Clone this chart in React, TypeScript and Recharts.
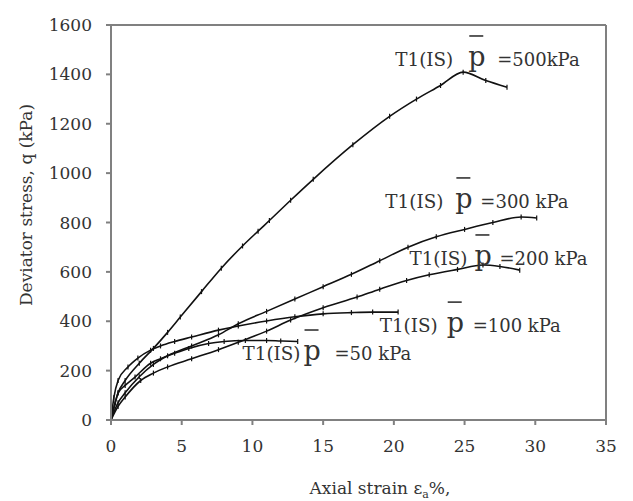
import React from 'react';
import { LineChart, Line, XAxis, YAxis, ReferenceLine, ReferenceDot, Label } from 'recharts';

// axial strain (%) and deviator stress q (kPa) for each confining pressure
const strain50 = [0, 0.3, 0.5, 1, 1.7, 2.8, 3.5, 4.5, 5.5, 6.9, 8, 9.5, 11, 12, 13.2];
const q50 = [0, 70, 109, 140, 174, 230, 248, 270, 290, 310, 318, 322, 322, 320, 318];

const strain100 = [0, 0.2, 0.5, 1.2, 1.9, 2.8, 3.5, 4.5, 5.7, 7.6, 9, 11, 13, 15, 17, 18.5, 20.3];
const q100 = [0, 90, 160, 215, 251, 283, 300, 318, 336, 364, 381, 401, 418, 430, 435, 437, 437];

const strain200 = [0, 0.5, 1, 2.1, 3, 4, 5.7, 7.6, 9, 11, 12.7, 15, 17.4, 19, 20.9, 22.5, 24.5, 26.3, 27.5, 28.9];
const q200 = [0, 55, 93, 160, 190, 215, 248, 285, 315, 360, 405, 455, 498, 530, 565, 588, 610, 628, 622, 607];

const strain300 = [0, 0.5, 1, 2, 3, 4, 5.7, 7.6, 9, 11, 13, 15, 17, 19, 21, 23, 25, 27, 29, 30.1];
const q300 = [0, 70, 110, 175, 225, 260, 300, 345, 390, 440, 490, 540, 590, 645, 700, 742, 772, 800, 822, 818];

const strain500 = [0, 0.5, 1, 2, 3, 4, 4.9, 6.4, 7.8, 9.3, 10.4, 11.2, 12.7, 14.3, 17.1, 19.7, 21.6, 23.3, 24.9, 26.5, 28.0];
const q500 = [0, 110, 160, 230, 290, 355, 417, 520, 615, 705, 765, 808, 890, 975, 1115, 1230, 1300, 1355, 1409, 1375, 1348];

const xTicks = [0, 5, 10, 15, 20, 25, 30, 35];
const yTicks = [0, 200, 400, 600, 800, 1000, 1200, 1400, 1600];

const zip = (xs: number[], ys: number[]) => xs.map((x, i) => ({ x, q: ys[i] }));

const series = [
  { name: 'p50', data: zip(strain50, q50) },
  { name: 'p100', data: zip(strain100, q100) },
  { name: 'p200', data: zip(strain200, q200) },
  { name: 'p300', data: zip(strain300, q300) },
  { name: 'p500', data: zip(strain500, q500) },
];

// curve labels: anchor (strain, q) at the start of "T1(IS)", plus spacing of the p-bar and the value
const curveLabels = [
  { x: 20.1, y: 1434, pDx: 73, eqDx: 102, text: '=500kPa' },
  { x: 19.4, y: 859, pDx: 70, eqDx: 95, text: '=300 kPa' },
  { x: 21.1, y: 628, pDx: 65, eqDx: 90, text: '=200 kPa' },
  { x: 19.0, y: 356, pDx: 67, eqDx: 93, text: '=100 kPa' },
  { x: 9.3, y: 243, pDx: 61, eqDx: 92, text: '=50 kPa' },
];

const FONT = '"DejaVu Serif", "Liberation Serif", serif';
const INK = '#333';
const AXIS = '#808080';

const TickDot = (props: any) => {
  const { cx, cy, index } = props;
  if (index === 0 || cx == null) return <g key={index} />;
  return <line key={index} x1={cx} y1={cy - 2.5} x2={cx} y2={cy + 2.5} stroke="#111" strokeWidth={1.2} />;
};

const CurveLabel = ({ cx, cy, pDx, eqDx, text }: any) => (
  <g fontFamily={FONT} fill={INK}>
    <text x={cx} y={cy} fontSize={19} textLength={58} lengthAdjust="spacingAndGlyphs">T1(IS)</text>
    <text x={cx + pDx} y={cy} fontSize={27}>p</text>
    <line x1={cx + pDx + 1} x2={cx + pDx + 15} y1={cy - 30} y2={cy - 30} stroke={INK} strokeWidth={1.6} />
    <text x={cx + eqDx} y={cy} fontSize={18}>{text}</text>
  </g>
);

export default function App() {
  return (
    <LineChart width={625} height={493} margin={{ top: 17, right: 27, bottom: 51, left: 0 }}>
      <XAxis
        type="number"
        dataKey="x"
        domain={[0, 35]}
        ticks={xTicks}
        allowDataOverflow
        axisLine={{ stroke: AXIS, strokeWidth: 2 }}
        tickLine={{ stroke: AXIS, strokeWidth: 2 }}
        tickSize={5}
        tickMargin={15}
        height={30}
        tick={{ fontFamily: FONT, fontSize: 17, fill: INK }}
      >
        <Label
          content={() => (
            <text x={372} y={486} textAnchor="middle" fontFamily={FONT} fontSize={17} fill={INK}>
              Axial strain ε<tspan fontSize={11} dy={4}>a</tspan><tspan dy={-4}>%,</tspan>
            </text>
          )}
        />
      </XAxis>
      <YAxis
        type="number"
        domain={[0, 1600]}
        ticks={yTicks}
        allowDataOverflow
        width={103}
        axisLine={{ stroke: AXIS, strokeWidth: 2 }}
        tickLine={{ stroke: AXIS, strokeWidth: 2 }}
        tickSize={5}
        tickMargin={14}
        tick={{ fontFamily: FONT, fontSize: 17, fill: INK }}
      >
        <Label
          content={() => (
            <text
              x={19}
              y={197}
              transform="rotate(-90 19 197)"
              textAnchor="middle"
              dominantBaseline="middle"
              fontFamily={FONT}
              fontSize={17}
              fill={INK}
            >
              Deviator stress, q (kPa)
            </text>
          )}
        />
      </YAxis>
      <ReferenceLine y={1600} stroke={AXIS} strokeWidth={2} />
      <ReferenceLine x={35} stroke={AXIS} strokeWidth={2} />
      {series.map((s) => (
        <Line
          key={s.name}
          data={s.data}
          dataKey="q"
          type="monotone"
          stroke="#111"
          strokeWidth={1.6}
          dot={TickDot}
          activeDot={false}
          isAnimationActive={false}
        />
      ))}
      {curveLabels.map((l) => (
        <ReferenceDot
          key={l.text}
          x={l.x}
          y={l.y}
          r={1}
          shape={(p: any) => <CurveLabel cx={p.cx} cy={p.cy} pDx={l.pDx} eqDx={l.eqDx} text={l.text} />}
        />
      ))}
    </LineChart>
  );
}
